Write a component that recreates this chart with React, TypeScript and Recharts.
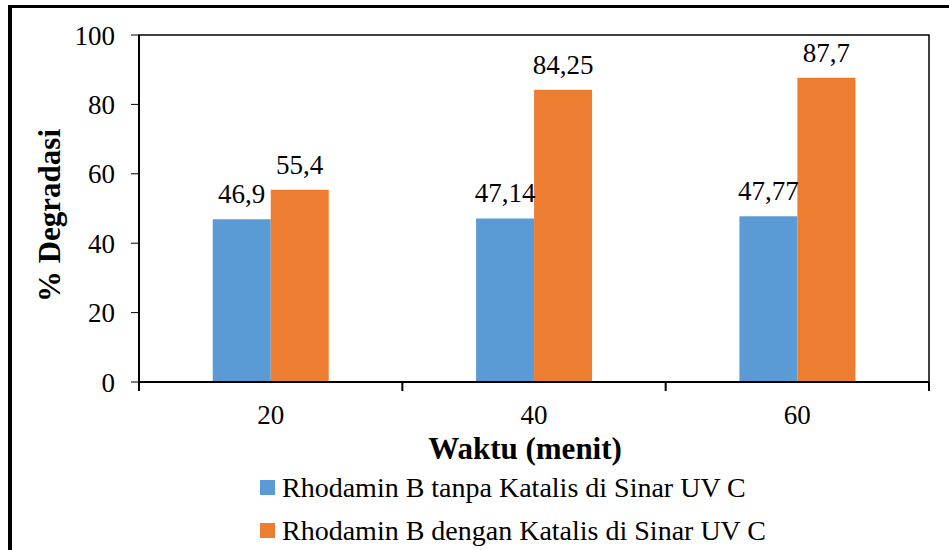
import React from 'react';
import { BarChart, Bar, XAxis, YAxis, LabelList, Legend, ReferenceArea } from 'recharts';

const categories = ['20', '40', '60'];
const tanpaKatalis = [46.9, 47.14, 47.77];
const denganKatalis = [55.4, 84.25, 87.7];
const yTicks = [0, 20, 40, 60, 80, 100];
const seriesNames = [
  'Rhodamin B tanpa Katalis di Sinar UV C',
  'Rhodamin B dengan Katalis di Sinar UV C',
];
const xTitle = 'Waktu (menit)';
const yTitle = '% Degradasi';

const data = categories.map((c, i) => ({
  waktu: c,
  tanpa: tanpaKatalis[i],
  dengan: denganKatalis[i],
}));

const FONT = "'Liberation Serif', 'Times New Roman', serif";
const TICK_SIZE = 8;
const TICK_MARGIN = 15;

const fmt = (v: any) => String(v).replace('.', ',');

const XTick = (props: any) => {
  const { x, y, payload, index, visibleTicksCount, width } = props;
  const half = payload && typeof payload.offset === 'number' && payload.offset > 0
    ? payload.offset
    : width / visibleTicksCount / 2;
  const axisY = y - TICK_SIZE - TICK_MARGIN;
  const isLast = index === visibleTicksCount - 1;
  return (
    <g>
      <line x1={x - half} x2={x - half} y1={axisY} y2={axisY + TICK_SIZE + 1} stroke="#000" strokeWidth={2} />
      {isLast && (
        <line x1={x + half} x2={x + half} y1={axisY} y2={axisY + TICK_SIZE + 1} stroke="#000" strokeWidth={2} />
      )}
      <text x={x} y={y} dy="0.71em" textAnchor="middle" fill="#000" fontSize={27} fontFamily={FONT}>
        {payload.value}
      </text>
    </g>
  );
};

const renderLegend = (props: any) => {
  const payload = [...(props.payload || [])].sort(
    (a: any, b: any) => seriesNames.indexOf(a.value) - seriesNames.indexOf(b.value)
  );
  return (
    <div style={{ fontFamily: FONT, fontSize: 28, color: '#000' }}>
      {payload.map((entry: any, i: number) => (
        <div key={i} style={{ display: 'flex', alignItems: 'center', height: 43, whiteSpace: 'nowrap' }}>
          <span style={{ display: 'inline-block', width: 15, height: 15, background: entry.color, marginRight: 7 }} />
          <span style={{ fontFamily: FONT }}>{entry.value}</span>
        </div>
      ))}
    </div>
  );
};

export default function App() {
  return (
    <div style={{ position: 'absolute', left: 0, top: 0, width: 949, height: 550, background: '#fff', overflow: 'hidden', fontFamily: FONT }}>
      <div style={{ position: 'absolute', left: 8, top: 5, width: 4, height: 545, background: '#000' }} />
      <div style={{ position: 'absolute', left: 8, top: 5, width: 941, height: 3, background: '#000' }} />
      <div style={{ position: 'absolute', left: 0, top: 0 }}>
        <BarChart
          width={949}
          height={550}
          data={data}
          margin={{ top: 35, right: 20, bottom: 0, left: 0 }}
          barCategoryGap="28%"
          barGap={0}
          style={{ fontFamily: FONT }}
        >
          <ReferenceArea y1={0} y2={100} fill="none" stroke="#000" strokeWidth={1.5} ifOverflow="visible" />
          <XAxis
            dataKey="waktu"
            height={168}
            axisLine={{ stroke: '#000', strokeWidth: 2 }}
            tickLine={false}
            tickSize={TICK_SIZE}
            tickMargin={TICK_MARGIN}
            tick={<XTick />}
            interval={0}
            label={{
              content: (p: any) => {
                const vb = p.viewBox || {};
                const cx = vb.x + vb.width / 2 - 9;
                const cy = vb.y + 77;
                return (
                  <text x={cx} y={cy} textAnchor="middle" fill="#000" fontSize={31} fontWeight="bold" fontFamily={FONT}>
                    {xTitle}
                  </text>
                );
              },
            }}
          />
          <YAxis
            domain={[0, 100]}
            ticks={yTicks}
            width={139}
            axisLine={{ stroke: '#000', strokeWidth: 2 }}
            tickLine={{ stroke: '#000', strokeWidth: 1 }}
            tickSize={8}
            tickMargin={16}
            tick={{ fill: '#000', fontSize: 27, fontFamily: FONT }}
            label={{
              content: (p: any) => {
                const vb = p.viewBox || {};
                const cx = vb.x + 60;
                const cy = vb.y + vb.height / 2 + 7;
                return (
                  <text
                    x={cx}
                    y={cy}
                    transform={`rotate(-90 ${cx} ${cy})`}
                    textAnchor="middle"
                    fill="#000"
                    fontSize={31}
                    fontWeight="bold"
                    fontFamily={FONT}
                  >
                    {yTitle}
                  </text>
                );
              },
            }}
          />
          <Legend
            layout="vertical"
            verticalAlign="middle"
            align="center"
            wrapperStyle={{ left: 260, top: 466, width: 'auto' }}
            content={renderLegend}
          />
          <Bar dataKey="tanpa" name={seriesNames[0]} fill="#5B9BD5" isAnimationActive={false}>
            <LabelList dataKey="tanpa" position="top" offset={16} formatter={fmt} fill="#000" fontSize={27} fontFamily={FONT} />
          </Bar>
          <Bar dataKey="dengan" name={seriesNames[1]} fill="#ED7D31" isAnimationActive={false}>
            <LabelList dataKey="dengan" position="top" offset={16} formatter={fmt} fill="#000" fontSize={27} fontFamily={FONT} />
          </Bar>
        </BarChart>
      </div>
    </div>
  );
}
